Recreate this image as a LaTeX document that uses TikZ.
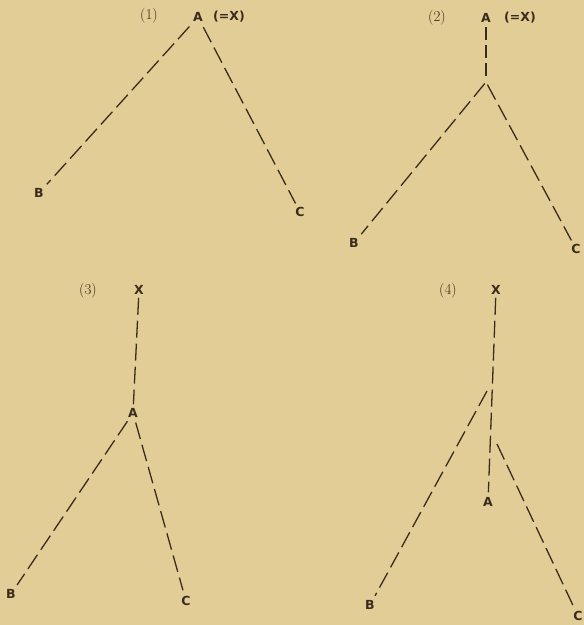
\documentclass[tikz,border=0pt]{standalone}
\usepackage{fontspec}
\newfontfamily\lblfont{DejaVu Sans}
\usepackage{xcolor}
\usetikzlibrary{positioning}
\definecolor{paper}{RGB}{227,205,151}
\definecolor{ink}{RGB}{58,44,28}
\tikzset{
    lbl/.style={font=\lblfont\bfseries\fontsize{12.5}{12.5}\selectfont, text=ink, inner sep=1pt},
    num/.style={font=\fontsize{15}{15}\selectfont, text=ink, inner sep=0pt},
    branch/.style={draw=ink, line width=1.3pt, dash pattern=on 17pt off 6pt}
}

\begin{document}
\begin{tikzpicture}[x=1pt,y=-1pt]
\fill[paper] (0,0) rectangle (584,625);
\useasboundingbox (0,0) rectangle (584,625);

\node[num] (n1) at (149,16) {(1)};
\node[lbl] (A1) at (198,17) {A};
\node[lbl] (eq1) at (229,17) {(=X)};
\node[lbl] (B1) at (39,193) {B};
\node[lbl] (C1) at (300,212) {C};
\draw[branch, shorten <=5pt, shorten >=4pt] (A1) -- (B1);
\draw[branch, shorten <=5pt, shorten >=3pt] (A1) -- (C1);

\node[num] (n2) at (437,18) {(2)};
\node[lbl] (A2) at (486,18) {A};
\node[lbl] (eq2) at (520,18) {(=X)};
\coordinate (j2) at (486,82);
\node[lbl] (B2) at (354,243) {B};
\node[lbl] (C2) at (576,249) {C};
\draw[branch, dash pattern=on 13pt off 5pt, shorten <=3pt, shorten >=3pt] (A2) -- (j2);
\draw[branch, shorten <=2pt, shorten >=4pt] (j2) -- (B2);
\draw[branch, shorten <=3pt, shorten >=3pt] (j2) -- (C2);

\node[num] (n3) at (88,291) {(3)};
\node[lbl] (X3) at (139,290) {X};
\node[lbl] (A3) at (133,413) {A};
\node[lbl] (B3) at (11,594) {B};
\node[lbl] (C3) at (186,601) {C};
\draw[branch, shorten <=2pt, shorten >=3pt] (X3) -- (A3);
\draw[branch, shorten <=3pt, shorten >=4pt] (A3) -- (B3);
\draw[branch, shorten <=4pt, shorten >=5pt] (A3) -- (C3);

\node[num] (n4) at (448,291) {(4)};
\node[lbl] (X4) at (496,290) {X};
\node[lbl] (A4) at (488,502) {A};
\coordinate (k4) at (487,391);
\coordinate (m4) at (497,444);
\node[lbl] (B4) at (370,605) {B};
\node[lbl] (C4) at (578,616) {C};
\draw[branch, shorten <=2pt, shorten >=4pt] (X4) -- (A4);
\draw[branch, shorten >=4pt] (k4) -- (B4);
\draw[branch, shorten >=3pt] (m4) -- (C4);
\end{tikzpicture}
\end{document}
